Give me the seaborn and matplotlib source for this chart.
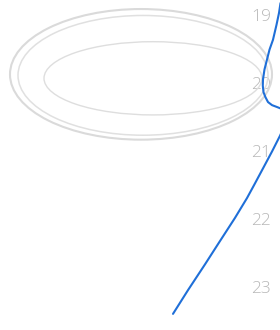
import matplotlib
matplotlib.use("Agg")
import matplotlib.pyplot as plt
from matplotlib.patches import Ellipse
import seaborn as sns
import pandas as pd

# Data
curve_x = [280.5, 279, 276.5, 273, 269.5, 267, 264.5, 263, 262.8, 263.5, 265.5, 268, 272, 277, 282,
           290, 284, 280, 272, 263, 254, 247, 235, 219, 205, 188, 173]
curve_y = [18.825, 18.971, 19.145, 19.364, 19.510, 19.655, 19.800, 19.945, 20.040, 20.135, 20.210,
           20.280, 20.325, 20.353, 20.382, 20.498, 20.644, 20.775, 21.007, 21.255, 21.502, 21.691,
           21.982, 22.345, 22.665, 23.044, 23.393]
tick_values = [19, 20, 21, 22, 23]
tick_labels = ["19", "20", "21", "22", "23"]

sns.set_theme(style="white")
plt.rcParams["font.family"] = ["Open Sans", "DejaVu Sans"]

fig = plt.figure(figsize=(2.8, 3.3), dpi=100)
ax = fig.add_axes([0, 0, 1, 1])

df = pd.DataFrame({"x": curve_x, "y": curve_y})

ax.set_xlim(0, 280)
ax.set_ylim(23.63, 18.78)

# decorative plate outline (grey ellipses)
def py(p):
    return 19 + (p - 15) / 68.75

for (cx, cy, w, h, lw, col) in [
    (141, 75, 262, 132, 1.5, "#dadada"),
    (143, 76, 250, 121, 1.1, "#e0e0e0"),
    (153, 79, 218, 74, 1.0, "#dedede"),
]:
    e = Ellipse((cx, py(cy)), w, h / 68.75, fill=False, edgecolor=col, lw=lw)
    ax.add_patch(e)

sns.lineplot(data=df, x="x", y="y", sort=False, estimator=None, ax=ax,
             color="#1f6fd8", linewidth=1.5, solid_joinstyle="round", solid_capstyle="round")

ax.set_yticks(tick_values)
ax.set_yticklabels(tick_labels)
ax.set_xticks([])
ax.yaxis.tick_right()
ax.tick_params(axis="y", length=0, pad=-21, labelsize=12.5, labelcolor="#b8b8b8")
for lbl in ax.get_yticklabels():
    lbl.set_fontweight("light")
ax.set_xlabel("")
ax.set_ylabel("")
for s in ax.spines.values():
    s.set_visible(False)
ax.set_facecolor("white")

fig.savefig("out.png", dpi=100)
